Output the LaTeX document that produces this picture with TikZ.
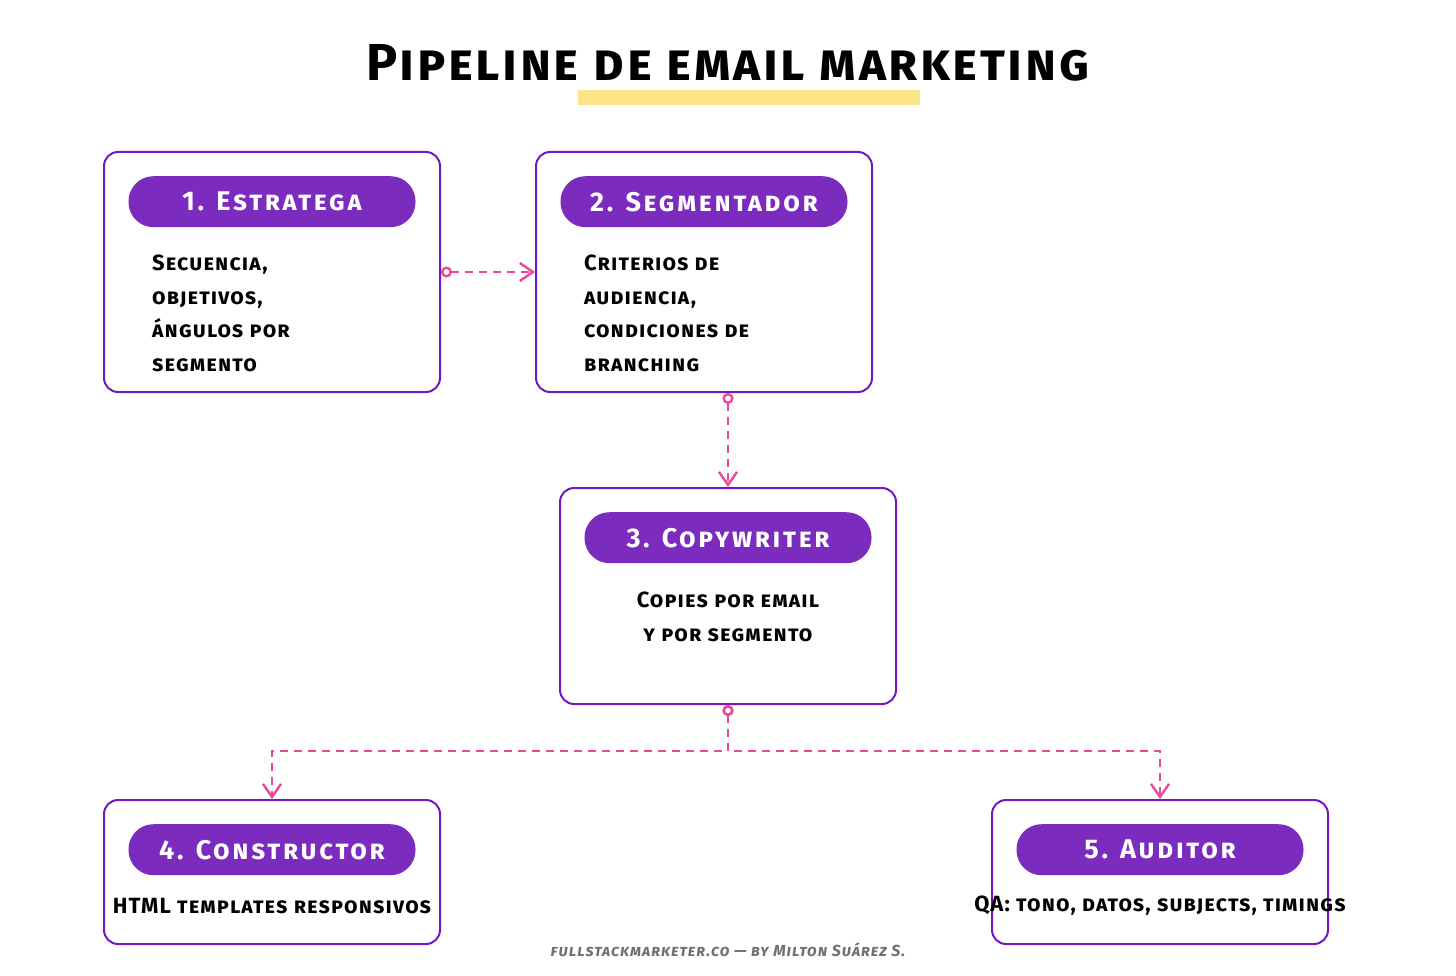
\documentclass[tikz,border=0pt]{standalone}
\usepackage{fontspec}
\setmainfont{Fira Sans}
\usetikzlibrary{arrows.meta,positioning}
\definecolor{EmPurple}{HTML}{7B2CBF}
\definecolor{EmBorder}{HTML}{7018C0}
\definecolor{EmPink}{HTML}{EC4899}
\definecolor{EmYellow}{HTML}{FCE588}
\definecolor{EmGray}{HTML}{707070}
\tikzset{
  agent box/.style = {
    draw=EmBorder,
    fill=white,
    line width=2pt,
    rounded corners=14pt,
    minimum width=336pt,
    inner sep=0pt
  },
  agent pill/.style = {
    fill=EmPurple,
    rounded corners=25pt,
    minimum width=287pt,
    minimum height=51pt,
    inner sep=0pt,
    text=white,
    font=\fontsize{27}{30}\selectfont\bfseries\scshape\addfontfeature{LetterSpace=10}
  },
  agent text/.style = {
    font=\fontsize{22}{33.5}\selectfont\bfseries\scshape\addfontfeature{LetterSpace=5},
    text=black,
    inner sep=0pt
  },
  handoff/.style = {
    draw=EmPink,
    line width=2.4pt,
    dash pattern=on 8pt off 6pt,
    {Circle[open,length=11pt,width=11pt]}-{Straight Barb[length=13pt,width=18pt]}
  },
}

\begin{document}
\begin{tikzpicture}[x=1pt,y=-1pt]
  \useasboundingbox (0,0) rectangle (1456,976);

  % title
  \node[font=\fontsize{52}{56}\selectfont\bfseries\scshape\addfontfeature{LetterSpace=5}, inner sep=0pt] (title) at (728,63) {Pipeline de email marketing};
  \fill[EmYellow] (578,90) rectangle (920,105);

  % agents
  \node[agent box, minimum height=240pt] (strat) at (272,272) {};
  \node[agent pill, below=25pt of strat.north] (stratpill) {1. Estratega};
  \node[agent text, align=left, anchor=north west] (strattxt) at (152,255) {Secuencia,\\objetivos,\\ángulos por\\segmento};

  \node[agent box, minimum height=240pt] (seg) at (704,272) {};
  \node[agent pill, below=25pt of seg.north] (segpill) {2. Segmentador};
  \node[agent text, align=left, anchor=north west] (segtxt) at (584,255) {Criterios de\\audiencia,\\condiciones de\\branching};

  \node[agent box, minimum height=216pt] (copy) at (728,596) {};
  \node[agent pill, below=25pt of copy.north] (copypill) {3. Copywriter};
  \node[agent text, align=center] (copytxt) at (728,617) {Copies por email\\y por segmento};

  \node[agent box, minimum height=144pt] (build) at (272,872) {};
  \node[agent pill, below=25pt of build.north] (buildpill) {4. Constructor};
  \node[agent text] (buildtxt) at (272,906) {HTML templates responsivos};

  \node[agent box, minimum height=144pt] (audit) at (1160,872) {};
  \node[agent pill, below=25pt of audit.north] (auditpill) {5. Auditor};
  \node[agent text] (audittxt) at (1160,906) {QA: tono, datos, subjects, timings};

  % handoffs
  \draw[handoff] (strat.east) -- (seg.west);
  \draw[handoff] (seg.south -| copy.north) -- (copy.north);
  \coordinate (split) at (728,751);
  \draw[handoff] (copy.south) -- (split) -| (build.north);
  \draw[handoff] (copy.south) -- (split) -| (audit.north);

  \node[font=\fontsize{16}{18}\selectfont\bfseries\itshape\scshape\addfontfeature{LetterSpace=6}, text=EmGray] (credit) at (728,950) {fullstackmarketer.co — by Milton Suárez S.};
\end{tikzpicture}
\end{document}
